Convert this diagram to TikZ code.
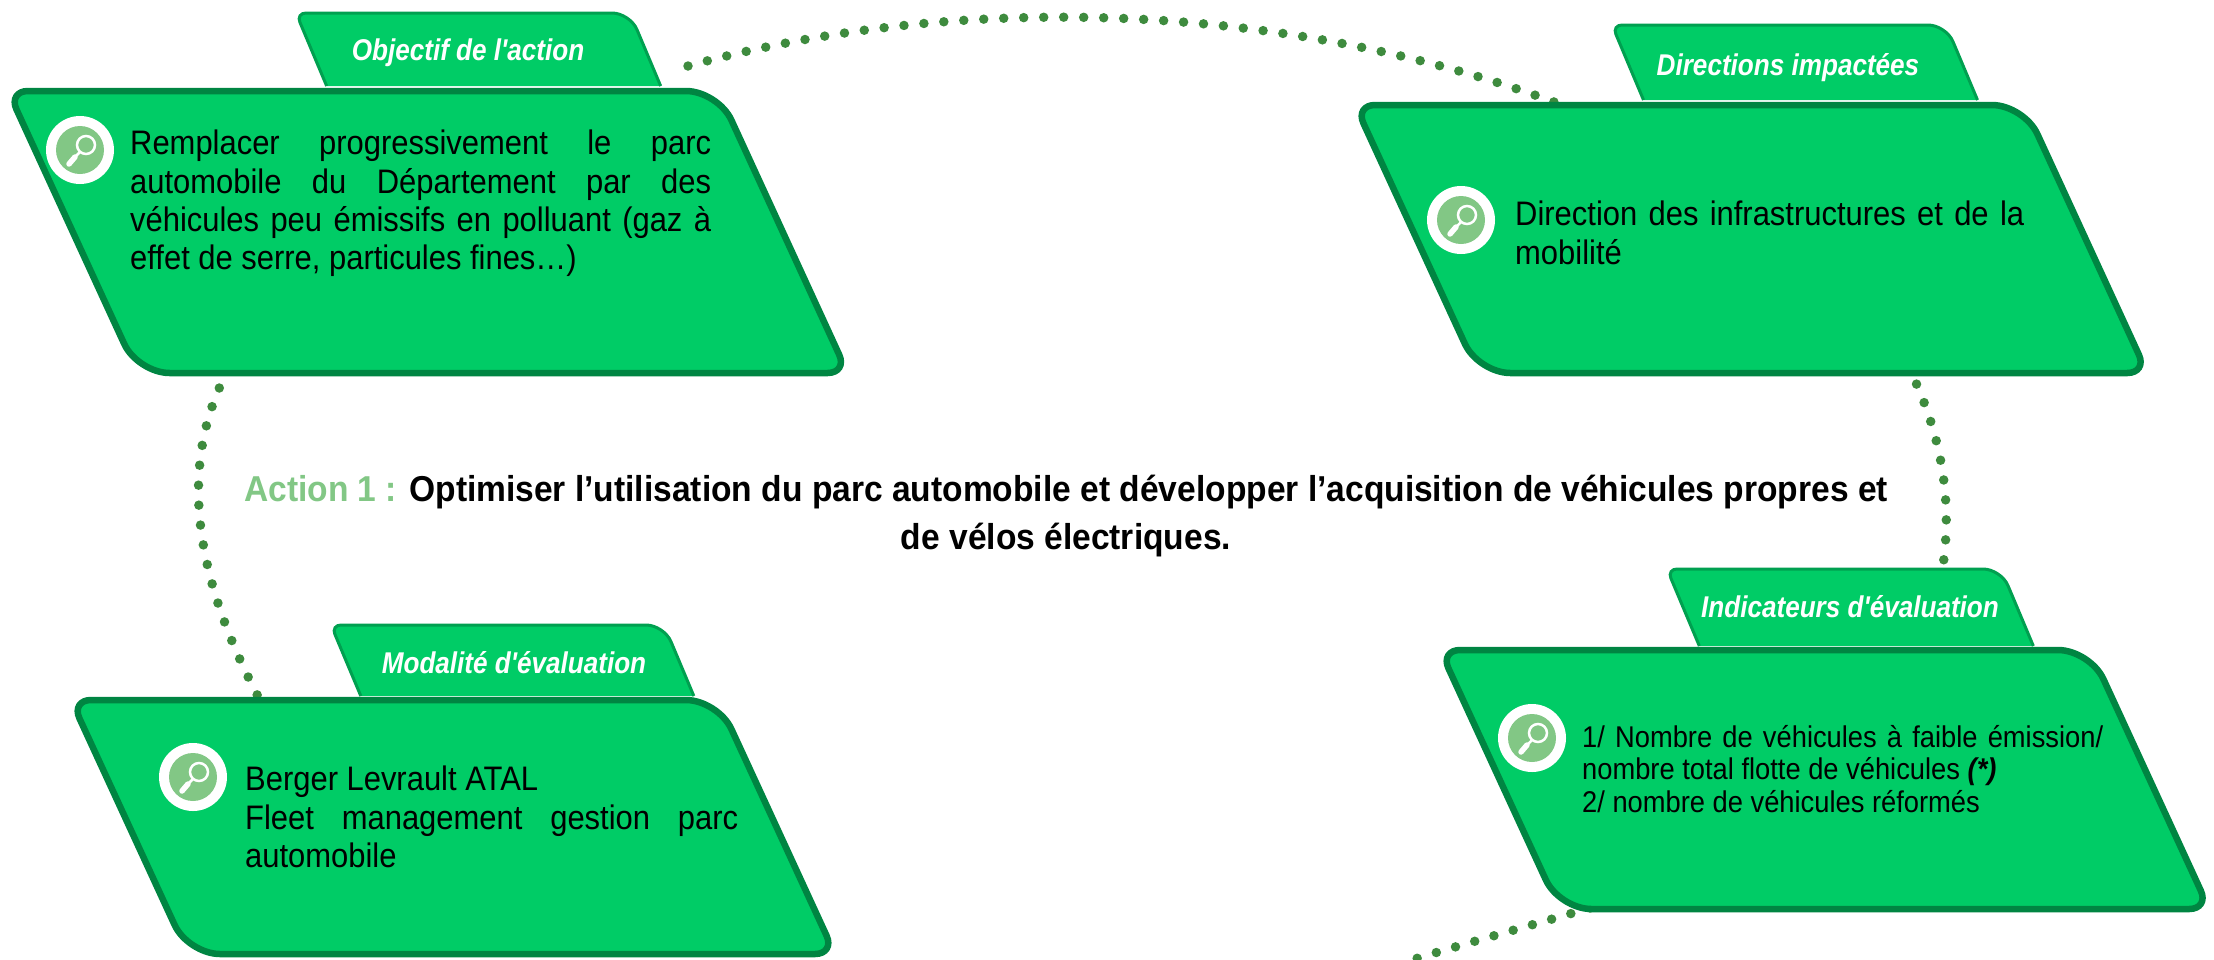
\documentclass[tikz,border=0pt]{standalone}
\usepackage{fontspec}
\setmainfont{Liberation Sans}[FakeStretch=0.91]
\newfontfamily\tabfont{Liberation Sans}[FakeStretch=0.87]
\newfontfamily\titlefont{Liberation Sans}[FakeStretch=0.932]
\definecolor{fillG}{HTML}{00CC66}
\definecolor{edgeG}{HTML}{008542}
\definecolor{tabE}{HTML}{00A050}
\definecolor{dotG}{HTML}{3E8B3E}
\definecolor{lightG}{HTML}{82C785}
\tikzset{
 bigbox/.style={fill=fillG,draw=edgeG,line width=6.5pt},
 tabbox/.style={fill=fillG},
 tabedge/.style={draw=tabE,line width=3pt},
 tabtext/.style={font=\tabfont\fontsize{30}{32}\selectfont\bfseries\itshape,text=white,inner sep=0pt},
 bodytext/.style={font=\fontsize{34}{38.3}\selectfont,align=justify,inner sep=0pt,anchor=north west,text=black},
 smalltext/.style={font=\fontsize{30}{32.5}\selectfont,align=justify,inner sep=0pt,anchor=north west,text=black},
 dotline/.style={draw=dotG,line width=9.5pt,line cap=round,dash pattern=on 0pt off 20pt},
}
\newcommand{\bigpara}[5]{% name x y w h
 \draw[bigbox] ({#2+0.5*#4},{#3+3})
   [rounded corners=32pt] -- ({#2+#4-3},{#3+3})
   [rounded corners=20pt] -- ({#2+#4+0.45*#5-3},{#3+#5-3})
   [rounded corners=32pt] -- ({#2+0.45*#5+3},{#3+#5-3})
   [rounded corners=20pt] -- ({#2+3},{#3+3})
   [sharp corners] -- cycle;
 \coordinate (#1) at (#2,#3);
}
\newcommand{\tabpara}[5]{% xTL ytop w h (name is on the text node)
 \fill[tabbox] ({#1+0.42*#4},{#2+#4}) [rounded corners=10pt] -- (#1,#2) [rounded corners=18pt] -- ({#1+#3},#2) [sharp corners] -- ({#1+#3+0.42*#4},{#2+#4}) -- cycle;
 \draw[tabedge] ({#1+0.42*#4},{#2+#4}) [rounded corners=10pt] -- (#1,#2) [rounded corners=18pt] -- ({#1+#3},#2) [sharp corners] -- ({#1+#3+0.42*#4},{#2+#4});
}
\newcommand{\lens}[3]{% name x y
 \node[circle,fill=white,minimum size=68pt,inner sep=0pt] (#1) at (#2,#3) {};
 \fill[lightG] (#2,#3) circle (24pt);
 \draw[white,line width=2.5pt] ({#2+6},{#3-5}) circle (9pt);
 \draw[white,line width=2.5pt] ({#2},{#3+2}) -- ({#2-6},{#3+8});
 \draw[white,line width=5.5pt,line cap=round] ({#2-5},{#3+7}) -- ({#2-11},{#3+14});
}
\begin{document}
\begin{tikzpicture}[x=1pt,y=-1pt]
\useasboundingbox (0,0) rectangle (2214,959);
\clip (0,0) rectangle (2214,959);
\coordinate (a1) at (688,66); \coordinate (a2) at (1575,110);
\coordinate (b1) at (1908,366); \coordinate (b2) at (1941,578);
\coordinate (c1) at (1590,908); \coordinate (c2) at (1405,962);
\coordinate (d1) at (228,370); \coordinate (d2) at (262,704);
\draw[dotline] (a1) .. controls (970,-12) and (1305,4) .. (a2);
\draw[dotline] (b1) .. controls (1940,430) and (1955,500) .. (b2);
\draw[dotline] (c1) .. controls (1515,930) and (1460,945) .. (c2);
\draw[dotline] (d1) .. controls (180,460) and (190,570) .. (d2);

\tabpara{296}{13}{334}{73}{}
\tabpara{1612}{25}{334}{75}{}
\tabpara{1667}{569}{334}{77}{}
\tabpara{331}{625}{333}{71}{}
\node[tabtext] (t1) at (468,52.5) {Objectif de l'action};
\node[tabtext] (t2) at (1788,67.5) {Directions impactées};
\node[tabtext] (t3) at (1850,607) {Indicateurs d'évaluation};
\node[tabtext] (t4) at (514,663) {Modalité d'évaluation};

\bigpara{p1}{5}{88}{716}{288}
\bigpara{p2}{1352}{102}{675}{274}
\bigpara{p3}{1437}{647}{656}{265}
\bigpara{p4}{68}{697}{653}{260}

\lens{i1}{80}{150}
\lens{i2}{1461}{220}
\lens{i3}{1532}{738}
\lens{i4}{193}{777}

\node[bodytext,text width=581pt] (b1t) at (130,130) {Remplacer progressivement le parc\linebreak automobile du Département par des\linebreak véhicules peu émissifs en polluant (gaz à\linebreak effet de serre, particules fines…)};
\node[bodytext,text width=530pt,align=left] (b2t) at (1515,201) {Direction des infrastructures et de la\\mobilité};
\node[smalltext,text width=521pt] (b3t) at (1582,725) {1/ Nombre de véhicules à faible émission/\linebreak nombre total flotte de véhicules \textbf{\textit{(*)}}\\2/ nombre de véhicules réformés};
\node[bodytext,text width=493pt] (b4t) at (245,766) {Berger Levrault ATAL\\Fleet management gestion parc\linebreak automobile};

\node[font=\titlefont\fontsize{36}{48}\selectfont\bfseries,align=center,inner sep=0pt] (title) at (1066,516) {\textcolor{lightG}{Action 1 :} Optimiser l’utilisation du parc automobile et développer l’acquisition de véhicules propres et\\de vélos électriques.};
\end{tikzpicture}
\end{document}
